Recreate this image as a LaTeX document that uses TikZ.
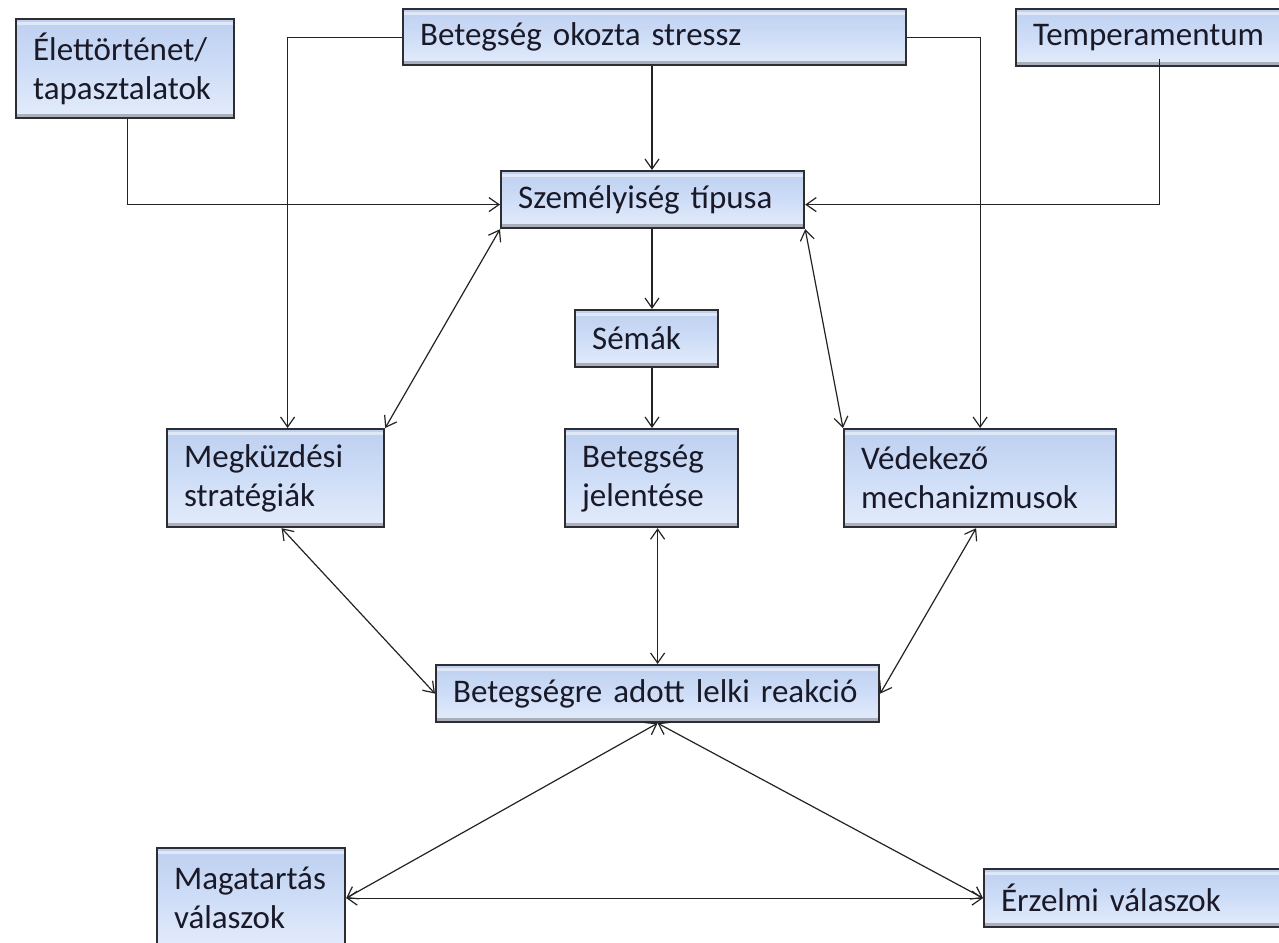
\documentclass[tikz,border=0pt]{standalone}
\usepackage{fontspec}
\setmainfont{Carlito}
\usetikzlibrary{arrows.meta,calc}
\definecolor{boxborder}{RGB}{45,45,50}
\definecolor{boxtop}{RGB}{190,208,240}
\definecolor{boxmid}{RGB}{206,221,247}
\definecolor{boxbot}{RGB}{228,236,251}
\definecolor{txtcol}{RGB}{25,25,40}
\definecolor{linecol}{RGB}{35,35,35}
\tikzset{
  box/.style={draw=boxborder, line width=1.1pt, top color=boxtop, bottom color=boxbot, middle color=boxmid,
    anchor=north west, inner xsep=8.5pt, inner ysep=0pt, align=left, text=txtcol,
    font=\fontsize{16.5}{19.5}\selectfont,
    path picture={\fill[black, opacity=0.25] (path picture bounding box.south west) rectangle ([yshift=2.2pt]path picture bounding box.south east);
                  \fill[white, opacity=0.5] ([yshift=-1.2pt]path picture bounding box.north west) rectangle ([yshift=-2.8pt]path picture bounding box.north east);}},
  tip/.tip={Straight Barb[length=5pt,width=7pt]},
  conn/.style={draw=linecol, line width=0.6pt},
  arr/.style={conn, -tip},
  darr/.style={conn, tip-tip},
}
\begin{document}
\begin{tikzpicture}[x=0.5pt,y=-0.5pt]
\useasboundingbox (0,0) rectangle (1279,942);
\fill[white] (0,0) rectangle (1279,942);
\clip (0,0) rectangle (1279,942);

\node[box, minimum width=109pt, minimum height=49.5pt, text width=92pt] (life) at (15,18) {Élettörténet/\\tapasztalatok};
\node[box, minimum width=251.5pt, minimum height=28pt, text width=234.5pt] (stress) at (402,8) {Betegség okozta stressz};
\node[box, minimum width=145pt, minimum height=28.5pt, text width=128pt] (temp) at (1015,8) {Temperamentum};
\node[box, minimum width=151.5pt, minimum height=28.5pt, text width=134.5pt] (pers) at (500,170) {Személyiség típusa};
\node[box, minimum width=71.5pt, minimum height=28.5pt, text width=54.5pt] (sema) at (574,309) {Sémák};
\node[box, minimum width=108.5pt, minimum height=49pt, text width=91.5pt] (cope) at (166,428) {Megküzdési\\stratégiák};
\node[box, minimum width=86.5pt, minimum height=49pt, text width=69.5pt] (mean) at (564,428) {Betegség\\jelentése};
\node[box, minimum width=136pt, minimum height=49pt, text width=119pt] (def) at (843,428) {Védekező\\mechanizmusok};
\node[box, minimum width=221.5pt, minimum height=28.5pt, text width=204.5pt] (react) at (435,664) {Betegségre adott lelki reakció};
\node[box, minimum width=94pt, minimum height=50pt, text width=77pt] (behav) at (156,847) {Magatartás\\válaszok};
\node[box, minimum width=155pt, minimum height=29pt, text width=138pt] (emot) at (983,868) {Érzelmi válaszok};

% coordinates for connector routing
\coordinate (cx) at (652,0);
\coordinate (lifeturn) at ($(life.south)+(2,0)$);
\coordinate (persL) at ($(pers.west)+(0,5)$);
\coordinate (persR) at ($(pers.east)+(0,5)$);
\coordinate (copeIn) at ($(cope.north)+(12,0)$);
\coordinate (tempOut) at ($(temp.south)+(-2,-8)$);

% elbow connectors
\draw[arr] (lifeturn) |- (persL);
\draw[arr] (tempOut) |- (persR);
\draw[arr] (stress.west) -| (copeIn);
\draw[arr] (stress.east) -| (def.north);

% straight down
\draw[arr] (stress.south -| cx) -- (pers.north -| cx);
\draw[arr] (pers.south -| cx) -- (sema.north -| cx);
\draw[arr] (sema.south -| cx) -- (mean.north -| cx);

% double arrows
\draw[darr] (pers.south west) -- (cope.north east);
\draw[darr] (pers.south east) -- (def.north west);
\draw[darr] ($(cope.south)+(6,0)$) -- (react.west);
\draw[darr] ($(def.south)+(-4,0)$) -- (react.east);
\draw[darr] (react.north |- mean.south) -- (react.north);
\draw[darr] (react.south) -- (behav.east);
\draw[darr] (react.south) -- (emot.west);
\draw[darr] (behav.east) -- (emot.west);
\end{tikzpicture}
\end{document}
